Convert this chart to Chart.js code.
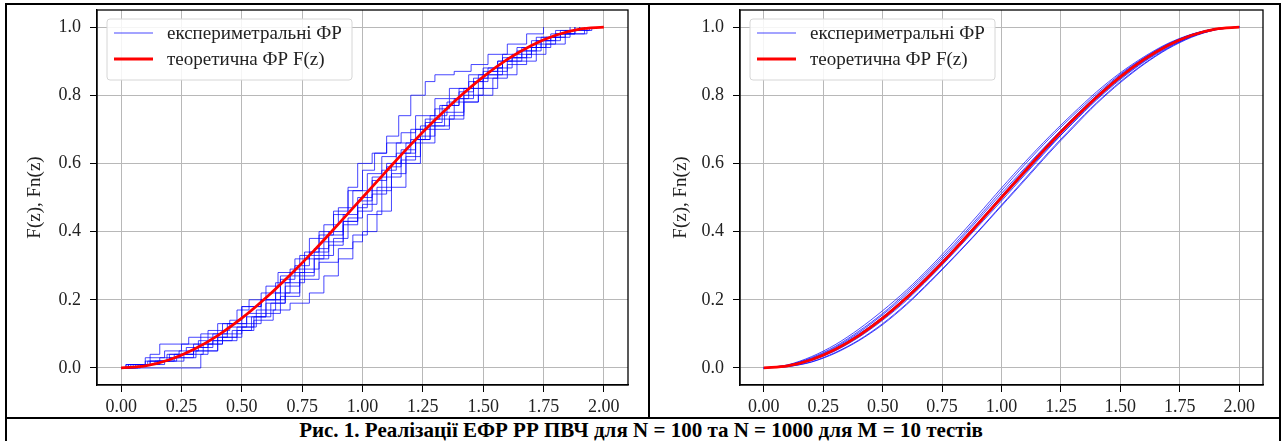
<!DOCTYPE html>
<html>
<head>
<meta charset="utf-8">
<script src="https://cdn.jsdelivr.net/npm/chart.js@4.4.1/dist/chart.umd.min.js"></script>
<style>
  html, body { margin: 0; padding: 0; background: #fff; }
  body { width: 1282px; height: 441px; position: relative; overflow: hidden; font-family: 'Liberation Serif', 'Times New Roman', serif; }
  .rule { position: absolute; background: #000; }
  .panel { position: absolute; top: 5px; }
  #caption { position: absolute; left: 0; top: 419px; width: 1282px; height: 22px; line-height: 23px;
             text-align: center; font-weight: bold; font-size: 21px; color: #000; }
</style>
</head>
<body>
<div class="rule" style="left:5px;top:3px;width:1276px;height:2px"></div>
<div class="rule" style="left:5px;top:3px;width:2px;height:438px"></div>
<div class="rule" style="left:1279px;top:3px;width:2px;height:438px"></div>
<div class="rule" style="left:648px;top:3px;width:2px;height:416px"></div>
<div class="rule" style="left:5px;top:417px;width:1276px;height:2px"></div>

<div class="panel" style="left:7px"><canvas id="chartN100" width="640" height="412"></canvas></div>
<div class="panel" style="left:651px"><canvas id="chartN1000" width="628" height="412"></canvas></div>
<div id="caption">Рис. 1. Реалізації ЕФР РР ПВЧ для N = 100 та N = 1000 для M = 10 тестів</div>

<script>
// Axis ticks
const xTicks = [0, 0.25, 0.5, 0.75, 1, 1.25, 1.5, 1.75, 2];
const yTicks = [0, 0.2, 0.4, 0.6, 0.8, 1];

// Theoretical CDF F(z)
const zGrid   = [0, 0.1, 0.2, 0.3, 0.4, 0.5, 0.6, 0.7, 0.8, 0.9, 1.0, 1.1, 1.2, 1.3, 1.4, 1.5, 1.6, 1.7, 1.8, 1.9, 2.0];
const theoryF = [0, 0.006, 0.024, 0.054, 0.095, 0.146, 0.206, 0.273, 0.345, 0.422, 0.5, 0.578, 0.655, 0.727, 0.794, 0.854, 0.905, 0.946, 0.976, 0.994, 1.0];

// Empirical CDFs, N = 100 (step curves: [z, Fn])
const n100run1 = [[0,0],[0.33,0.04],[0.36,0.07],[0.42,0.09],[0.5,0.12],[0.55,0.15],[0.62,0.19],[0.68,0.22],[0.74,0.27],[0.8,0.32],[0.86,0.36],[0.92,0.42],[0.98,0.47],[1.02,0.52],[1.08,0.58],[1.14,0.63],[1.2,0.67],[1.26,0.72],[1.33,0.77],[1.4,0.81],[1.46,0.85],[1.52,0.88],[1.58,0.91],[1.66,0.94],[1.74,0.97],[1.82,0.99],[1.9,1.0]];
const n100run2 = [[0,0],[0.03,0.01],[0.12,0.02],[0.2,0.03],[0.3,0.05],[0.4,0.08],[0.48,0.11],[0.55,0.14],[0.63,0.17],[0.7,0.19],[0.78,0.22],[0.84,0.27],[0.9,0.32],[0.96,0.37],[1.0,0.4],[1.06,0.46],[1.12,0.53],[1.18,0.6],[1.24,0.66],[1.3,0.71],[1.36,0.73],[1.42,0.78],[1.48,0.8],[1.54,0.85],[1.6,0.89],[1.68,0.92],[1.76,0.95],[1.84,0.98],[1.93,1.0]];
const n100run3 = [[0,0],[0.02,0.01],[0.1,0.03],[0.18,0.05],[0.25,0.07],[0.33,0.1],[0.42,0.13],[0.5,0.18],[0.58,0.22],[0.66,0.27],[0.74,0.33],[0.82,0.4],[0.88,0.46],[0.94,0.52],[1.0,0.58],[1.05,0.63],[1.1,0.68],[1.15,0.74],[1.2,0.8],[1.26,0.84],[1.3,0.86],[1.38,0.87],[1.45,0.89],[1.52,0.92],[1.6,0.95],[1.68,0.98],[1.75,1.0]];
const n100run4 = [[0,0],[0.05,0.01],[0.12,0.04],[0.16,0.07],[0.28,0.09],[0.36,0.11],[0.45,0.14],[0.5,0.18],[0.58,0.2],[0.66,0.26],[0.72,0.3],[0.78,0.34],[0.86,0.4],[0.92,0.45],[0.98,0.5],[1.04,0.56],[1.1,0.6],[1.16,0.64],[1.22,0.7],[1.28,0.74],[1.35,0.78],[1.42,0.82],[1.5,0.87],[1.56,0.9],[1.64,0.93],[1.72,0.96],[1.8,0.98],[1.88,1.0]];
const n100run5 = [[0,0],[0.04,0.01],[0.14,0.02],[0.22,0.04],[0.3,0.06],[0.38,0.08],[0.46,0.11],[0.54,0.15],[0.6,0.2],[0.68,0.25],[0.76,0.29],[0.82,0.33],[0.88,0.38],[0.94,0.44],[1.0,0.48],[1.06,0.53],[1.12,0.6],[1.18,0.66],[1.24,0.71],[1.3,0.76],[1.36,0.79],[1.44,0.84],[1.5,0.86],[1.58,0.9],[1.66,0.93],[1.74,0.96],[1.82,0.98],[1.92,1.0]];
const n100run6 = [[0,0],[0.06,0.01],[0.16,0.03],[0.24,0.05],[0.32,0.08],[0.4,0.13],[0.48,0.17],[0.53,0.2],[0.6,0.24],[0.65,0.28],[0.72,0.32],[0.78,0.38],[0.84,0.42],[0.9,0.47],[0.96,0.52],[1.02,0.57],[1.08,0.62],[1.14,0.66],[1.2,0.7],[1.26,0.73],[1.32,0.77],[1.4,0.82],[1.48,0.86],[1.56,0.9],[1.62,0.92],[1.7,0.96],[1.78,0.98],[1.86,1.0]];
const n100run7 = [[0,0],[0.08,0.01],[0.18,0.02],[0.26,0.04],[0.34,0.07],[0.42,0.1],[0.5,0.13],[0.58,0.16],[0.66,0.21],[0.74,0.26],[0.82,0.31],[0.9,0.35],[0.96,0.39],[1.02,0.45],[1.08,0.52],[1.12,0.57],[1.18,0.62],[1.24,0.68],[1.3,0.73],[1.38,0.79],[1.46,0.84],[1.52,0.87],[1.6,0.91],[1.68,0.94],[1.76,0.97],[1.84,0.99],[1.95,1.0]];
const n100run8 = [[0,0],[0.03,0.01],[0.1,0.02],[0.2,0.04],[0.3,0.07],[0.38,0.1],[0.44,0.13],[0.52,0.16],[0.58,0.2],[0.64,0.25],[0.7,0.29],[0.76,0.34],[0.82,0.39],[0.88,0.45],[0.94,0.53],[0.98,0.6],[1.04,0.63],[1.1,0.66],[1.16,0.69],[1.22,0.74],[1.3,0.79],[1.36,0.82],[1.44,0.86],[1.5,0.88],[1.58,0.92],[1.64,0.94],[1.72,0.97],[1.8,0.99],[1.9,1.0]];
const n100run9 = [[0,0],[0.07,0.01],[0.15,0.02],[0.23,0.03],[0.31,0.05],[0.4,0.09],[0.48,0.12],[0.56,0.17],[0.64,0.22],[0.7,0.28],[0.76,0.32],[0.84,0.37],[0.92,0.43],[0.98,0.49],[1.04,0.55],[1.1,0.59],[1.16,0.63],[1.22,0.67],[1.28,0.71],[1.34,0.75],[1.42,0.8],[1.5,0.85],[1.56,0.88],[1.62,0.91],[1.7,0.94],[1.78,0.97],[1.86,0.99],[1.94,1.0]];
const n100run10 = [[0,0],[0.02,0.01],[0.11,0.02],[0.19,0.04],[0.27,0.06],[0.36,0.09],[0.44,0.12],[0.52,0.15],[0.6,0.19],[0.68,0.24],[0.74,0.28],[0.8,0.35],[0.86,0.39],[0.92,0.43],[0.98,0.46],[1.04,0.51],[1.1,0.56],[1.16,0.61],[1.22,0.67],[1.28,0.7],[1.36,0.74],[1.42,0.78],[1.48,0.82],[1.56,0.86],[1.64,0.9],[1.72,0.95],[1.8,0.98],[1.88,1.0]];

// Empirical CDFs, N = 1000 (values on zGrid)
const n1000run1 = [0, 0.008, 0.03, 0.063, 0.108, 0.16, 0.222, 0.29, 0.362, 0.44, 0.52, 0.598, 0.672, 0.74, 0.804, 0.862, 0.91, 0.95, 0.978, 0.995, 1];
const n1000run2 = [0, 0.005, 0.022, 0.05, 0.09, 0.14, 0.198, 0.266, 0.338, 0.414, 0.49, 0.568, 0.645, 0.72, 0.789, 0.849, 0.9, 0.943, 0.974, 0.993, 1];
const n1000run3 = [0, 0.009, 0.033, 0.068, 0.114, 0.168, 0.228, 0.296, 0.37, 0.448, 0.528, 0.605, 0.678, 0.746, 0.81, 0.866, 0.913, 0.952, 0.979, 0.995, 1];
const n1000run4 = [0, 0.006, 0.023, 0.052, 0.093, 0.143, 0.202, 0.268, 0.342, 0.418, 0.496, 0.572, 0.648, 0.718, 0.786, 0.846, 0.898, 0.94, 0.972, 0.992, 1];
const n1000run5 = [0, 0.006, 0.025, 0.056, 0.098, 0.15, 0.21, 0.278, 0.35, 0.426, 0.505, 0.584, 0.66, 0.732, 0.798, 0.857, 0.907, 0.947, 0.977, 0.995, 1];
const n1000run6 = [0, 0.004, 0.018, 0.045, 0.082, 0.13, 0.188, 0.255, 0.326, 0.4, 0.478, 0.556, 0.634, 0.708, 0.778, 0.84, 0.893, 0.938, 0.972, 0.992, 1];
const n1000run7 = [0, 0.007, 0.026, 0.057, 0.1, 0.148, 0.207, 0.276, 0.348, 0.424, 0.503, 0.58, 0.656, 0.728, 0.796, 0.855, 0.906, 0.946, 0.976, 0.994, 1];
const n1000run8 = [0, 0.006, 0.024, 0.053, 0.094, 0.145, 0.204, 0.27, 0.344, 0.42, 0.498, 0.576, 0.652, 0.724, 0.792, 0.852, 0.903, 0.944, 0.975, 0.994, 1];
const n1000run9 = [0, 0.008, 0.028, 0.06, 0.104, 0.156, 0.216, 0.284, 0.356, 0.434, 0.512, 0.588, 0.662, 0.732, 0.799, 0.859, 0.909, 0.949, 0.978, 0.995, 1];
const n1000run10 = [0, 0.004, 0.017, 0.043, 0.08, 0.127, 0.185, 0.252, 0.324, 0.398, 0.475, 0.552, 0.63, 0.704, 0.775, 0.837, 0.891, 0.936, 0.97, 0.992, 1];

const legendLabels = ['експериметральні ФР', 'теоретична ФР F(z)'];
const yTitle = 'F(z), Fn(z)';

// Styling
const serif = "'Liberation Serif', 'Times New Roman', serif";
const textColor = '#222';
const gridColor = '#b8b8b8';
const empColor = 'rgba(0, 0, 255, 0.72)';
const theoryColor = '#ff0000';

const toXY = pairs => pairs.map(p => ({ x: p[0], y: p[1] }));
const onGrid = vals => vals.map((v, i) => ({ x: zGrid[i], y: v }));

function empiricalSet(data, stepped) {
    return { data, borderColor: empColor, borderWidth: 1, pointRadius: 0, fill: false,
             stepped: stepped, tension: stepped ? 0 : 0.3, order: 1 };
}
function theorySet() {
    return { data: onGrid(theoryF), borderColor: theoryColor, borderWidth: 2.8, pointRadius: 0,
             fill: false, cubicInterpolationMode: 'monotone', order: 0 };
}

// spines on the top and right, like matplotlib
const framePlugin = {
    id: 'frame',
    afterDraw(chart) {
        const { ctx, chartArea: a } = chart;
        ctx.save();
        ctx.strokeStyle = '#000';
        ctx.lineWidth = 1.3;
        ctx.strokeRect(a.left, a.top, a.right - a.left, a.bottom - a.top);
        ctx.restore();
    }
};

// legend box in the upper left of the axes
const boxLegend = {
    id: 'boxLegend',
    afterDatasetsDraw(chart) {
        const { ctx, chartArea: a } = chart;
        const x = a.left + 10, y = a.top + 9, w = 245, h = 61;
        ctx.save();
        ctx.beginPath();
        ctx.roundRect(x, y, w, h, 3);
        ctx.fillStyle = 'rgba(255,255,255,0.85)';
        ctx.fill();
        ctx.strokeStyle = '#d6d6d6';
        ctx.lineWidth = 1;
        ctx.stroke();
        const rows = [
            { color: empColor, width: 1, label: legendLabels[0], dy: 14 },
            { color: theoryColor, width: 3, label: legendLabels[1], dy: 40 }
        ];
        ctx.font = '19px ' + serif;
        ctx.textBaseline = 'middle';
        ctx.fillStyle = textColor;
        rows.forEach(r => {
            ctx.beginPath();
            ctx.strokeStyle = r.color;
            ctx.lineWidth = r.width;
            ctx.moveTo(x + 7, y + r.dy);
            ctx.lineTo(x + 46, y + r.dy);
            ctx.stroke();
            ctx.fillText(r.label, x + 60, y + r.dy + 1);
        });
        ctx.restore();
    }
};

function buildPanel(canvasId, datasets, yWidth, titlePad, padRight) {
    return new Chart(document.getElementById(canvasId), {
        type: 'line',
        data: { datasets },
        options: {
            responsive: false,
            animation: false,
            events: [],
            layout: { padding: { left: 0, right: padRight, top: 5, bottom: 0 } },
            plugins: { legend: { display: false }, tooltip: { enabled: false } },
            scales: {
                x: {
                    type: 'linear', min: -0.1, max: 2.1,
                    afterBuildTicks: s => { s.ticks = xTicks.map(v => ({ value: v })); },
                    afterFit: s => { s.height = 32; s.paddingLeft = 0; s.paddingRight = 0; },
                    grid: { color: gridColor, lineWidth: 1, tickColor: '#000', tickLength: 7 },
                    border: { color: '#000', width: 1.3 },
                    ticks: { color: textColor, font: { family: serif, size: 18 }, padding: 4,
                             maxRotation: 0, callback: v => Number(v).toFixed(2) }
                },
                y: {
                    type: 'linear', min: -0.05, max: 1.05,
                    afterBuildTicks: s => { s.ticks = yTicks.map(v => ({ value: v })); },
                    afterFit: s => { s.width = yWidth; s.paddingTop = 0; s.paddingBottom = 0; },
                    grid: { color: gridColor, lineWidth: 1, tickColor: '#000', tickLength: 7 },
                    border: { color: '#000', width: 1.3 },
                    title: { display: true, text: yTitle, color: textColor,
                             font: { family: serif, size: 19 }, padding: { top: titlePad, bottom: 0 } },
                    ticks: { color: textColor, font: { family: serif, size: 18 }, padding: 9,
                             callback: v => Number(v).toFixed(1) }
                }
            }
        },
        plugins: [framePlugin, boxLegend]
    });
}

const leftSets = [n100run1, n100run2, n100run3, n100run4, n100run5, n100run6, n100run7, n100run8, n100run9, n100run10]
    .map(r => empiricalSet(toXY(r), true));
leftSets.push(theorySet());

const rightSets = [n1000run1, n1000run2, n1000run3, n1000run4, n1000run5, n1000run6, n1000run7, n1000run8, n1000run9, n1000run10]
    .map(r => empiricalSet(onGrid(r), false));
rightSets.push(theorySet());

buildPanel('chartN100', leftSets, 90, 16.6, 19);
buildPanel('chartN1000', rightSets, 89, 18.6, 16);
</script>
</body>
</html>
